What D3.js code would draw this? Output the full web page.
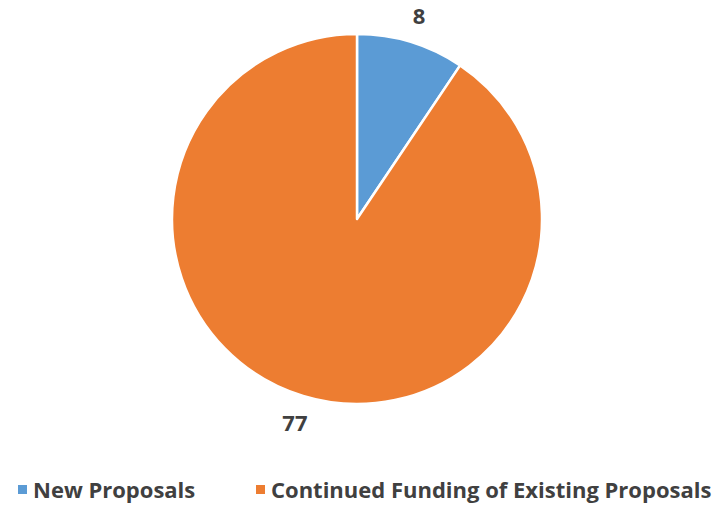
<!DOCTYPE html>
<meta charset="utf-8">
<script src="https://d3js.org/d3.v7.min.js"></script>
<style>
  body { margin: 0; background: #fff; }
  text { font-family: "Open Sans", "Noto Sans", sans-serif; font-weight: bold; fill: #404040; }
</style>
<div id="my_dataviz"></div>
<script>
// data
var categories = ["New Proposals", "Continued Funding of Existing Proposals"];
var values = [8, 77];
var colors = ["#5B9BD5", "#ED7D31"];

var width = 718, height = 505;
var cx = 357, cy = 219, radius = 185;

var svg = d3.select("#my_dataviz")
  .append("svg")
    .attr("width", width)
    .attr("height", height);

var g = svg.append("g")
  .attr("transform", "translate(" + cx + "," + cy + ")");

var data = categories.map(function(c, i) { return {name: c, value: values[i], color: colors[i]}; });

var pie = d3.pie()
  .sort(null)
  .value(function(d) { return d.value; });

var arc = d3.arc().innerRadius(0).outerRadius(radius);
var labelArc = d3.arc().innerRadius(213).outerRadius(213);

var arcs = pie(data);

g.selectAll("path")
  .data(arcs)
  .enter()
  .append("path")
    .attr("d", arc)
    .attr("fill", function(d) { return d.data.color; })
    .attr("stroke", "#fff")
    .attr("stroke-width", 2.5)
    .attr("stroke-linejoin", "round");

g.selectAll("text.lbl")
  .data(arcs)
  .enter()
  .append("text")
    .attr("class", "lbl")
    .attr("transform", function(d) { return "translate(" + labelArc.centroid(d) + ")"; })
    .attr("text-anchor", "middle")
    .attr("dy", "0.38em")
    .style("font-size", "22px")
    .text(function(d) { return d.data.value; });

// legend
var legendX = [18, 256];
var legend = svg.selectAll("g.legend")
  .data(data)
  .enter()
  .append("g")
    .attr("class", "legend")
    .attr("transform", function(d, i) { return "translate(" + legendX[i] + ",490)"; });

legend.append("rect")
  .attr("x", 0)
  .attr("y", -5)
  .attr("width", 9)
  .attr("height", 9)
  .attr("fill", function(d) { return d.color; });

legend.append("text")
  .attr("x", 15)
  .attr("y", 0)
  .attr("dy", "0.35em")
  .style("font-size", "22px")
  .text(function(d) { return d.name; });
</script>
